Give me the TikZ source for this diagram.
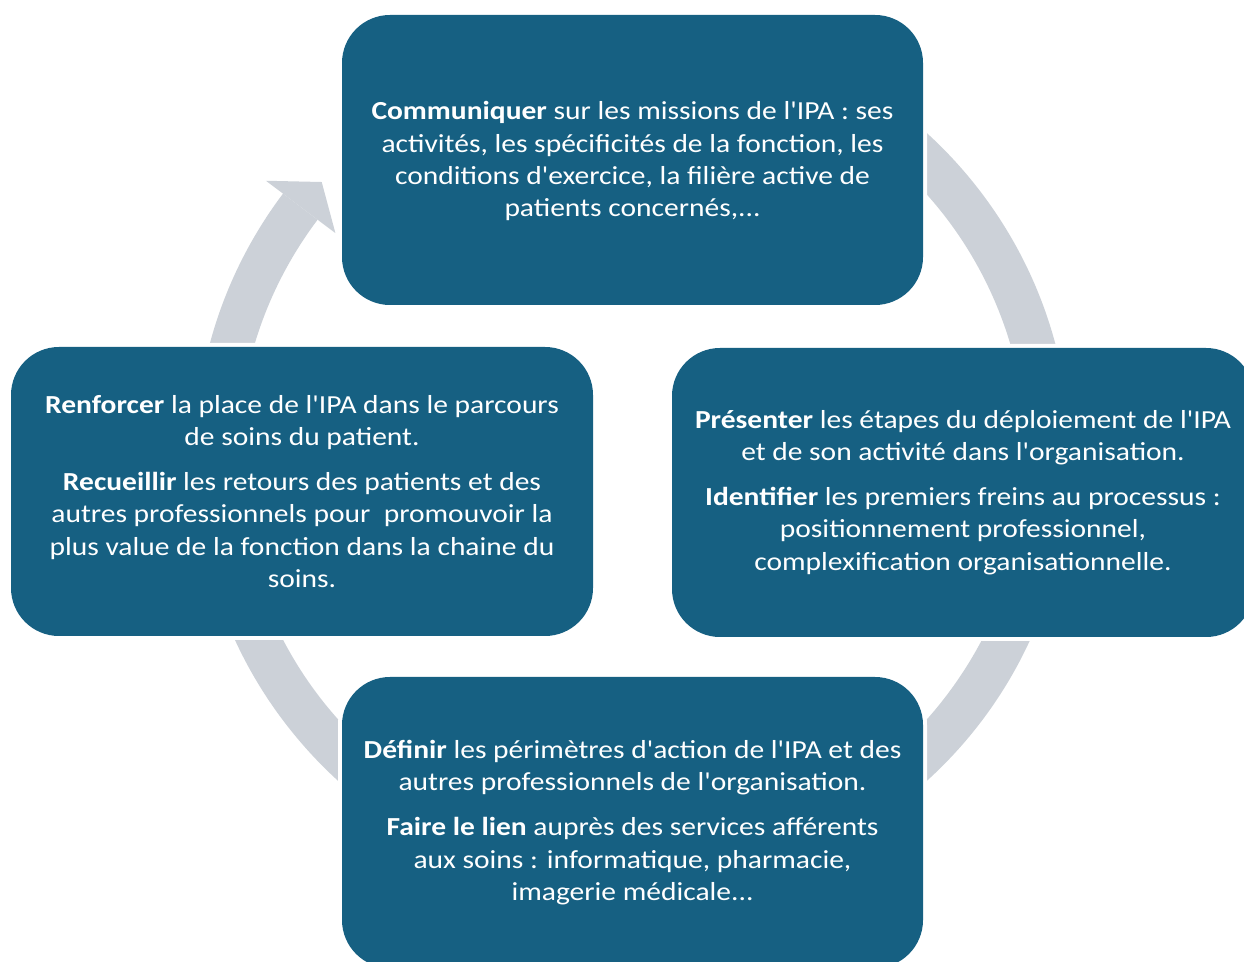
\documentclass[tikz,border=0pt]{standalone}
\usepackage{fontspec}
\setmainfont{Carlito}[Ligatures=TeXOff, FakeStretch=1.135]
\definecolor{boxblue}{HTML}{166082}
\definecolor{ringgrey}{HTML}{CCD1D8}
\begin{document}
\begin{tikzpicture}[x=1pt,y=1pt,
  box/.style={fill=boxblue, rounded corners=48pt, text=white, align=center,
    preaction={draw=white, line width=8pt},
    font=\fontsize{26}{32.3}\selectfont, inner sep=0pt}]
\useasboundingbox (0,0) rectangle (1244,961);
\fill[white] (0,0) rectangle (1244,961);
\coordinate (C) at (632.5,504);
% ring
\begin{scope}[shift={(C)}]
\fill[ringgrey] (128:437.6pt) arc[start angle=128, end angle=-217, radius=437.6pt]
  -- (-217:394.3pt) arc[start angle=-217, end angle=128, radius=394.3pt] -- cycle;
\fill[ringgrey] (143:459pt) -- (138.5:415pt) -- (143:372pt) -- cycle;
\end{scope}
% boxes
\node[box, minimum width=581pt, minimum height=290pt] (top) at (632.5,801)
  {\raisebox{-2pt}[\height][\depth]{\begin{tabular}{@{}c@{}}\textbf{Communiquer} sur les missions de l'IPA : ses\\
   activités, les spécificités de la fonction, les\\
   conditions d'exercice, la filière active de\\
   patients concernés,...\end{tabular}}};
\node[box, minimum width=582pt, minimum height=289pt] (right) at (963,468.5)
  {\textbf{Présenter} les étapes du déploiement de l'IPA\\
   et de son activité dans l'organisation.\\[12.7pt]
   \textbf{Identifier} les premiers freins au processus :\\
   positionnement professionnel,\\
   complexification organisationnelle.};
\node[box, minimum width=582pt, minimum height=289pt] (left) at (302,469.5)
  {\textbf{Renforcer} la place de l'IPA dans le parcours\\
   de soins du patient.\\[12.7pt]
   \textbf{Recueillir} les retours des patients et des\\
   autres professionnels pour~ promouvoir la\\
   plus value de la fonction dans la chaine du\\
   soins.};
\node[box, minimum width=581pt, minimum height=291pt] (bottom) at (632.5,138.5)
  {\textbf{Définir} les périmètres d'action de l'IPA et des\\
   autres professionnels de l'organisation.\\[12.7pt]
   \textbf{Faire le lien} auprès des services afférents\\
   aux soins : informatique, pharmacie,\\
   imagerie médicale...};
\end{tikzpicture}
\end{document}
